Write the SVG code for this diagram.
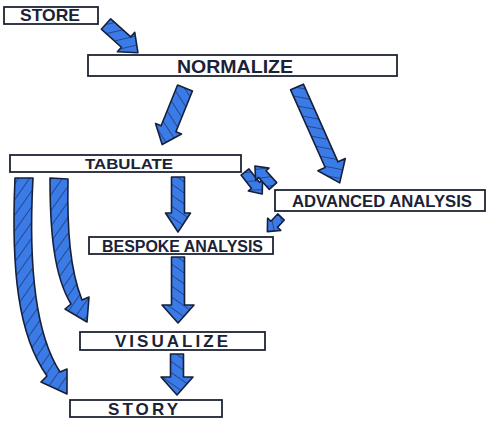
<svg xmlns="http://www.w3.org/2000/svg" width="492" height="424" viewBox="0 0 492 424">
<style>
.box{fill:#ffffff;stroke:#1d2434;stroke-width:1.8}
.lbl{font-family:"Liberation Sans",Arial,sans-serif;font-weight:bold;fill:#1b2236}
.arr{fill:url(#hatch);stroke:#16203a;stroke-width:1.6;stroke-linejoin:round}
</style>
<defs>
<pattern id="hatch" patternUnits="userSpaceOnUse" width="9" height="9" patternTransform="rotate(35)">
<rect width="9" height="9" fill="#3b7be8"/>
<line x1="0.5" y1="0" x2="0.5" y2="9" stroke="#24427f" stroke-width="0.9"/>
</pattern>
</defs>
<g id="connectors">
<path class="arr" d="M0,-7 L27,-7 L27,-13 L43,0 L27,13 L27,7 L0,7 Z" transform="translate(106,24) rotate(42)"/>
<path class="arr" d="M0,-8 L44,-8 L44,-14 L61,0 L44,14 L44,8 L0,8 Z" transform="translate(185,88) rotate(112)"/>
<path class="arr" d="M0,-7 L85,-7 L85,-15 L105,0 L85,15 L85,7 L0,7 Z" transform="translate(297,87) rotate(66)"/>
<path class="arr" d="M0,-6.5 L36,-6.5 L36,-12.5 L55,0 L36,12.5 L36,6.5 L0,6.5 Z" transform="translate(178,177) rotate(90)"/>
<path class="arr" d="M0,-5 L17,-5 L17,-9 L28,0 L17,9 L17,5 L0,5 Z" transform="translate(245,172) rotate(52)"/>
<path class="arr" d="M0,-5 L16,-5 L16,-9 L27,0 L16,9 L16,5 L0,5 Z" transform="translate(273,186) rotate(228)"/>
<path class="arr" d="M0,-4.5 L10,-4.5 L10,-9 L20,0 L10,9 L10,4.5 L0,4.5 Z" transform="translate(281,217) rotate(133)"/>
<path class="arr" d="M0,-6.5 L48,-6.5 L48,-16 L66,0 L48,16 L48,6.5 L0,6.5 Z" transform="translate(178,257) rotate(90)"/>
<path class="arr" d="M0,-6.5 L23,-6.5 L23,-16 L41,0 L23,16 L23,6.5 L0,6.5 Z" transform="translate(177,354) rotate(90)"/>
<path class="arr" d="M50,178 C50,232 54,276 71,304 L65,309 L87,322 L89,297 L82,300 C70,270 67,230 68,179 Z"/>
<path class="arr" d="M15,178 C11,270 18,335 47,376 L41,382 L67,394 L67,369 L60,372 C36,335 28,270 33,178 Z"/>
</g>
<g id="store"><rect class="box" x="4" y="7" width="94" height="17"/><text class="lbl" x="20" y="21" font-size="17" textLength="60" lengthAdjust="spacingAndGlyphs">STORE</text></g>
<g id="normalize"><rect class="box" x="88" y="55" width="309" height="21"/><text class="lbl" x="177" y="72.5" font-size="18" textLength="116" lengthAdjust="spacingAndGlyphs">NORMALIZE</text></g>
<g id="tabulate"><rect class="box" x="10" y="155" width="231" height="17"/><text class="lbl" x="85" y="169" font-size="15" textLength="88" lengthAdjust="spacingAndGlyphs">TABULATE</text></g>
<g id="advanced"><rect class="box" x="275" y="190" width="210" height="21"/><text class="lbl" x="292" y="206.5" font-size="17" textLength="180" lengthAdjust="spacingAndGlyphs">ADVANCED ANALYSIS</text></g>
<g id="bespoke"><rect class="box" x="89" y="237" width="184" height="17"/><text class="lbl" x="102" y="251.5" font-size="16" textLength="161" lengthAdjust="spacingAndGlyphs">BESPOKE ANALYSIS</text></g>
<g id="visualize"><rect class="box" x="80" y="332" width="185" height="18"/><text class="lbl" x="115" y="347" font-size="17" textLength="113">VISUALIZE</text></g>
<g id="story"><rect class="box" x="70" y="400" width="152" height="17"/><text class="lbl" x="108" y="415" font-size="17" textLength="70">STORY</text></g>
</svg>
